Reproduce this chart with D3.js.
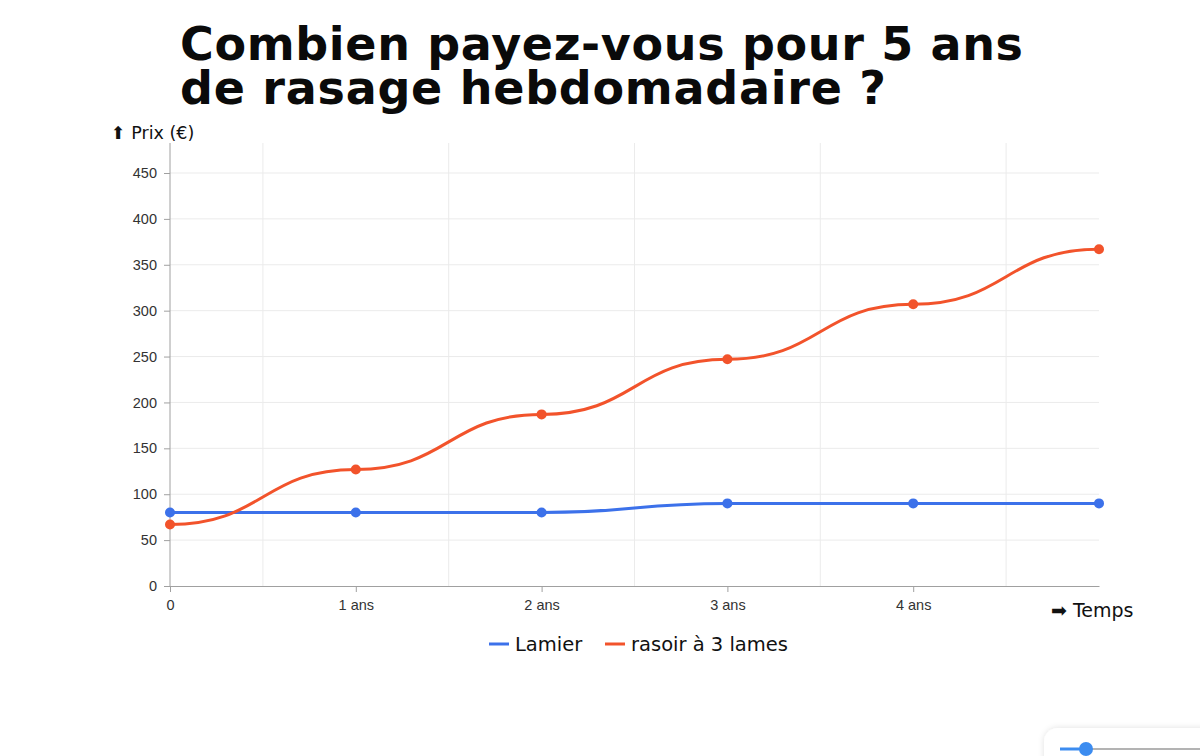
<!DOCTYPE html>
<html>
<head>
<meta charset="utf-8">
<script src="https://cdn.jsdelivr.net/npm/d3@7"></script>
<style>
  body { margin: 0; background: #fff; }
  svg { display: block; font-family: "DejaVu Sans", sans-serif; }
</style>
</head>
<body>
<div id="content"></div>
<script>
// data
const years = [0, 1, 2, 3, 4, 5];
const tickLabels = ["0", "1 ans", "2 ans", "3 ans", "4 ans"];
const lamier = [80, 80, 80, 90, 90, 90];
const rasoir = [67, 127, 187, 247, 307, 367];
const seriesNames = ["Lamier", "rasoir à 3 lames"];
const yTicks = [0, 50, 100, 150, 200, 250, 300, 350, 400, 450];

const width = 1200;
const height = 756;
const colors = ["#3c71ea", "#f2532b"];

const svg = d3.select("#content")
  .append("svg")
  .attr("width", width)
  .attr("height", height);

// title
const title = svg.append("text")
  .attr("font-family", "DejaVu Sans, sans-serif")
  .attr("font-weight", "bold")
  .attr("font-size", "46px")
  .attr("fill", "#0a0a0a");
title.append("tspan").attr("x", 180).attr("y", 60)
  .attr("textLength", 843).attr("lengthAdjust", "spacing")
  .text("Combien payez-vous pour 5 ans");
title.append("tspan").attr("x", 180).attr("y", 104)
  .attr("textLength", 706).attr("lengthAdjust", "spacing")
  .text("de rasage hebdomadaire ?");

const x = d3.scaleLinear().domain([0, 5]).range([170, 1099]);
const y = d3.scaleLinear().domain([0, 450]).range([586, 173]);
const plotTop = 143;

// grid lines
svg.append("g")
  .selectAll("line")
  .data(yTicks.slice(1))
  .enter()
  .append("line")
  .attr("x1", x(0))
  .attr("x2", x(5))
  .attr("y1", d => y(d))
  .attr("y2", d => y(d))
  .attr("stroke", "#ebebeb")
  .attr("stroke-width", 1);

svg.append("g")
  .selectAll("line")
  .data([0.5, 1.5, 2.5, 3.5, 4.5])
  .enter()
  .append("line")
  .attr("x1", d => x(d))
  .attr("x2", d => x(d))
  .attr("y1", plotTop)
  .attr("y2", y(0))
  .attr("stroke", "#ebebeb")
  .attr("stroke-width", 1);

// axes
const xAxis = svg.append("g")
  .attr("transform", `translate(0,${y(0)})`)
  .call(d3.axisBottom(x).tickValues([0, 1, 2, 3, 4])
    .tickFormat((d, i) => tickLabels[i]).tickSize(6).tickPadding(8).tickSizeOuter(0));
xAxis.select(".domain").attr("stroke", "#a0a0a0");
xAxis.selectAll(".tick line").attr("stroke", "#a0a0a0");
xAxis.selectAll("text").attr("font-size", "14.5px").attr("fill", "#333");

const yAxis = svg.append("g")
  .attr("transform", `translate(${x(0)},0)`)
  .call(d3.axisLeft(y).tickValues(yTicks).tickSize(6).tickPadding(7).tickSizeOuter(0));
yAxis.select(".domain").attr("d", `M0,${plotTop}V${y(0)}`).attr("stroke", "#a0a0a0");
yAxis.selectAll(".tick line").attr("stroke", "#a0a0a0");
yAxis.selectAll("text").attr("font-size", "14.5px").attr("fill", "#333");

// axis titles
svg.append("text")
  .attr("x", 111).attr("y", 139)
  .attr("font-size", "17.5px").attr("fill", "#111")
  .text("⬆ Prix (€)");

svg.append("text")
  .attr("x", 1051).attr("y", 617)
  .attr("font-size", "19px").attr("fill", "#111")
  .text("➡ Temps");

// lines
const line = d3.line()
  .x((d, i) => x(years[i]))
  .y(d => y(d))
  .curve(d3.curveBumpX);

[lamier, rasoir].forEach((values, k) => {
  svg.append("path")
    .datum(values)
    .attr("d", line)
    .attr("fill", "none")
    .attr("stroke", colors[k])
    .attr("stroke-width", 3);

  svg.append("g")
    .selectAll("circle")
    .data(values)
    .enter()
    .append("circle")
    .attr("cx", (d, i) => x(years[i]))
    .attr("cy", d => y(d))
    .attr("r", 5)
    .attr("fill", colors[k]);
});

// legend
const legendX = [489, 605];
seriesNames.forEach((name, k) => {
  const g = svg.append("g").attr("transform", `translate(${legendX[k]},644)`);
  g.append("line").attr("x1", 0).attr("x2", 20)
    .attr("stroke", colors[k]).attr("stroke-width", 3);
  g.append("text").attr("x", 26).attr("y", 7)
    .attr("font-size", "19.5px").attr("fill", "#111")
    .text(name);
});

// slider widget in bottom-right corner
const defs = svg.append("defs");
const f = defs.append("filter").attr("id", "sh").attr("x", "-20%").attr("y", "-50%")
  .attr("width", "140%").attr("height", "200%");
f.append("feDropShadow").attr("dx", 0).attr("dy", 0).attr("stdDeviation", 3)
  .attr("flood-color", "#000").attr("flood-opacity", 0.12);
svg.append("rect").attr("x", 1044).attr("y", 728).attr("width", 180).attr("height", 60)
  .attr("rx", 14).attr("fill", "#fff").attr("filter", "url(#sh)");
svg.append("line").attr("x1", 1085).attr("x2", 1200).attr("y1", 749).attr("y2", 749)
  .attr("stroke", "#9a9a9a").attr("stroke-width", 1.5);
svg.append("line").attr("x1", 1060).attr("x2", 1085).attr("y1", 749).attr("y2", 749)
  .attr("stroke", "#3c8cf0").attr("stroke-width", 3);
svg.append("circle").attr("cx", 1086).attr("cy", 749).attr("r", 7).attr("fill", "#3c8cf0");
</script>
</body>
</html>
